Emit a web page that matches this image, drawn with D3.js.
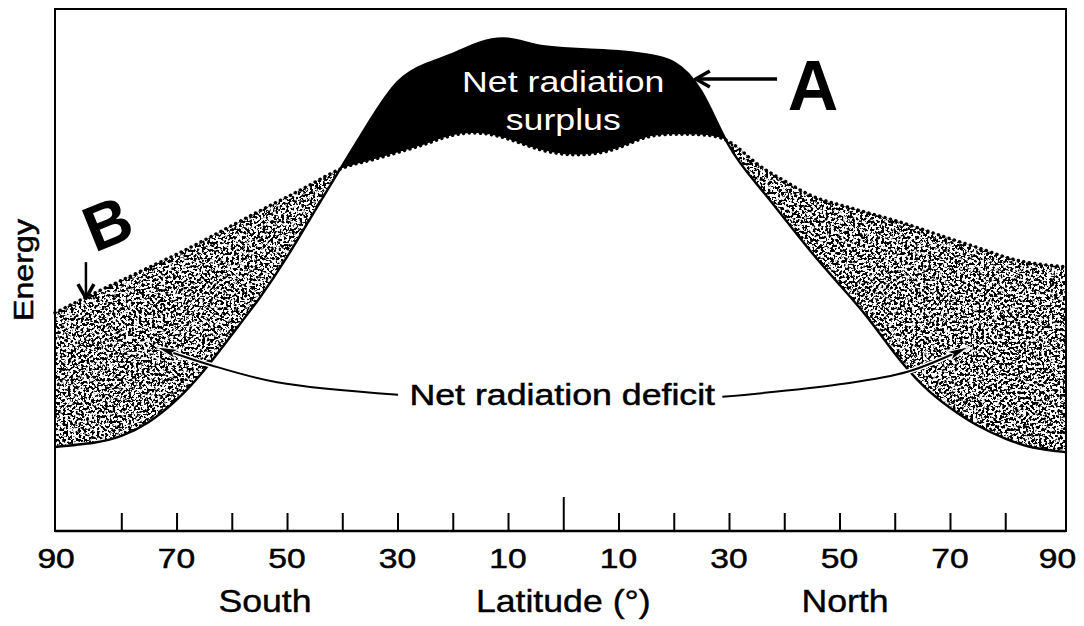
<!DOCTYPE html>
<html>
<head>
<meta charset="utf-8">
<script src="https://cdn.jsdelivr.net/npm/d3@7"></script>
<style>
  html, body { margin: 0; padding: 0; background: #fff; }
  svg { display: block; }
  text { font-family: "Liberation Sans", Arial, Helvetica, sans-serif; fill: #000; }
</style>
</head>
<body>
<svg id="chart" width="1084" height="626"></svg>
<script>
// ---------- data ----------
const latitude = [-92,-85,-80,-75,-70,-65,-60,-55,-50,-45,-40,-35,-30,-25,-20,-15,-10,-5,0,
                  5,10,15,20,25,30,35,40,45,50,55,60,65,70,75,80,85,91];
// absorbed solar radiation (solid line)
const incoming = [16.1,16.9,18.2,20.9,25.1,30.8,37.6,44.6,52.5,61.3,70.0,78.6,86.0,89.4,91.4,93.6,94.3,93.1,92.5,
                  92.2,91.9,91.3,89.8,84.2,73.8,66.5,59.9,53.3,47.2,41.0,34.0,28.0,23.6,20.2,17.7,16.0,15.1];
// outgoing radiation (dotted line)
const outgoing = [41.8,45.5,48.0,50.5,53.0,55.7,58.5,61.3,64.0,66.8,69.5,71.0,72.5,74.1,75.8,76.2,75.1,73.3,72.2,
                  72.2,73.4,75.4,76.0,75.9,74.6,70.4,67.1,64.2,62.5,61.0,59.5,57.8,56.0,54.3,52.5,51.3,50.6];
const tickLatitudes = [-80,-70,-60,-50,-40,-30,-20,-10,0,10,20,30,40,50,60,70,80];
const labelLatitudes = [-90,-70,-50,-30,-10,10,30,50,70,90];
const tickLabels = ["90","70","50","30","10","10","30","50","70","90"];
const hemisphereLabels = ["South","Latitude (°)","North"];
const hemisphereLat = [-54,0,51];

// ---------- layout ----------
const W = 1084, H = 626;
const frame = {left: 55, right: 1066, top: 9, bottom: 531};
const svg = d3.select("#chart");

const x = d3.scaleLinear().domain([-92, 91]).range([frame.left, frame.right]);
const y = d3.scaleLinear().domain([0, 100]).range([frame.bottom, frame.top]);

const rows = latitude.map((l, i) => ({lat: l, inc: incoming[i], out: outgoing[i]}));
const curve = d3.curveNatural;

// ---------- defs ----------
const defs = svg.append("defs");
const f = defs.append("filter").attr("id", "speckle")
  .attr("filterUnits", "userSpaceOnUse").attr("x", 0).attr("y", 0).attr("width", W).attr("height", H);
f.append("feTurbulence").attr("type", "fractalNoise").attr("baseFrequency", 0.38)
  .attr("numOctaves", 3).attr("seed", 11).attr("result", "n");
f.append("feColorMatrix").attr("in", "n").attr("type", "matrix")
  .attr("values", "0 0 0 0 0  0 0 0 0 0  0 0 0 0 0  -12 0 0 0 6.3");

const bandArea = d3.area().curve(curve).x(d => x(d.lat)).y0(d => y(d.inc)).y1(d => y(d.out));
const aboveOut = d3.area().curve(curve).x(d => x(d.lat)).y0(frame.top - 5).y1(d => y(d.out));
const belowOut = d3.area().curve(curve).x(d => x(d.lat)).y0(d => y(d.out)).y1(frame.bottom + 5);

defs.append("clipPath").attr("id", "clipAbove").append("path").attr("d", aboveOut(rows));
defs.append("clipPath").attr("id", "clipBelow").append("path").attr("d", belowOut(rows));
defs.append("clipPath").attr("id", "clipBand").append("path").attr("d", bandArea(rows));

// markers
defs.append("marker").attr("id", "tri").attr("viewBox", "0 0 22 12")
  .attr("refX", 21).attr("refY", 6).attr("markerWidth", 22).attr("markerHeight", 12)
  .attr("markerUnits", "userSpaceOnUse").attr("orient", "auto")
  .append("path").attr("d", "M0,1 L22,6 L0,11 L5,6 Z").attr("fill", "#000")
  .attr("stroke", "#fff").attr("stroke-width", 1);
defs.append("marker").attr("id", "chev").attr("viewBox", "0 0 20 20")
  .attr("refX", 18).attr("refY", 10).attr("markerWidth", 20).attr("markerHeight", 20)
  .attr("markerUnits", "userSpaceOnUse").attr("orient", "auto")
  .append("path").attr("d", "M4,2 L18,10 L4,18").attr("fill", "none")
  .attr("stroke", "#000").attr("stroke-width", 3.5).attr("stroke-linejoin", "miter");

// ---------- fills ----------
// deficit: speckled band where outgoing exceeds incoming
const speck = svg.append("g").attr("clip-path", "url(#clipBelow)")
  .append("g").attr("clip-path", "url(#clipBand)");
speck.append("rect").attr("x", 0).attr("y", 0).attr("width", W).attr("height", H)
  .attr("fill", "#fff");
speck.append("rect").attr("x", 0).attr("y", 0).attr("width", W).attr("height", H)
  .attr("fill", "#000").attr("filter", "url(#speckle)");

// surplus: black band where incoming exceeds outgoing
svg.append("g").attr("clip-path", "url(#clipAbove)")
  .append("path").attr("d", bandArea(rows)).attr("fill", "#000");

// ---------- lines ----------
const incLine = d3.line().curve(curve).x(d => x(d.lat)).y(d => y(d.inc));
const outLine = d3.line().curve(curve).x(d => x(d.lat)).y(d => y(d.out));

svg.append("path").attr("d", outLine(rows)).attr("fill", "none")
  .attr("stroke", "#000").attr("stroke-width", 3.4).attr("stroke-linecap", "round")
  .attr("stroke-dasharray", "0.1,5.5");
svg.append("path").attr("d", incLine(rows)).attr("fill", "none")
  .attr("stroke", "#000").attr("stroke-width", 2.4);

// ---------- frame & axis ----------
svg.append("rect").attr("x", frame.left).attr("y", frame.top)
  .attr("width", frame.right - frame.left).attr("height", frame.bottom - frame.top)
  .attr("fill", "none").attr("stroke", "#000").attr("stroke-width", 2);

const axis = d3.axisBottom(x).tickValues(tickLatitudes).tickSize(-18).tickFormat("");
const ag = svg.append("g").attr("transform", `translate(0,${frame.bottom})`).call(axis);
ag.select(".domain").remove();
ag.selectAll(".tick line").attr("stroke", "#000").attr("stroke-width", 2)
  .attr("y2", d => d === 0 ? -34 : -18);
svg.append("line").attr("x1", frame.left).attr("x2", frame.right)
  .attr("y1", frame.bottom).attr("y2", frame.bottom).attr("stroke", "#000").attr("stroke-width", 2.5);

// tick labels
svg.append("g").selectAll("text").data(labelLatitudes).join("text")
  .attr("transform", (d, i) => {
    const dx = i === 0 ? -10 : (i === labelLatitudes.length - 1 ? -3 : 0);
    return `translate(${x(d) + dx},568) scale(1.2,1)`;
  })
  .attr("text-anchor", "middle").attr("font-size", 28)
  .attr("stroke", "#000").attr("stroke-width", 0.5)
  .text((d, i) => tickLabels[i]);

svg.append("g").selectAll("text").data(hemisphereLabels).join("text")
  .attr("transform", (d, i) => `translate(${x(hemisphereLat[i])},612) scale(1.15,1)`)
  .attr("text-anchor", "middle").attr("font-size", 31)
  .attr("stroke", "#000").attr("stroke-width", 0.4)
  .text(d => d);

// y-axis title
svg.append("text").attr("transform", "translate(33,270) rotate(-90) scale(1.15,1)")
  .attr("text-anchor", "middle").attr("font-size", 28)
  .attr("stroke", "#000").attr("stroke-width", 0.5)
  .text("Energy");

// ---------- annotations ----------
// surplus label (white on black)
svg.append("text").attr("transform", `translate(${x(0)},92) scale(1.19,1)`)
  .attr("text-anchor", "middle").attr("font-size", 30).style("fill", "#fff")
  .text("Net radiation");
svg.append("text").attr("transform", `translate(${x(0)},130) scale(1.19,1)`)
  .attr("text-anchor", "middle").attr("font-size", 30).style("fill", "#fff")
  .text("surplus");

// deficit label
svg.append("text").attr("transform", `translate(${x(0) - 1},405) scale(1.19,1)`)
  .attr("text-anchor", "middle").attr("font-size", 30)
  .attr("stroke", "#000").attr("stroke-width", 0.5)
  .text("Net radiation deficit");

const leader = d3.line().curve(d3.curveCatmullRom.alpha(0.5)).x(d => x(d[0])).y(d => y(d[1]));
const leftLeader = [[-29.9, 26.1], [-51.8, 28.5], [-63.9, 31.8], [-73.5, 35.2]];
const rightLeader = [[28.8, 25.7], [50, 28.1], [62.3, 30.5], [73.2, 35.2]];
[leftLeader, rightLeader].forEach(pts => {
  svg.append("path").attr("d", leader(pts)).attr("fill", "none")
    .attr("stroke", "#fff").attr("stroke-width", 5);
  svg.append("path").attr("d", leader(pts)).attr("fill", "none")
    .attr("stroke", "#000").attr("stroke-width", 2).attr("marker-end", "url(#tri)");
});

// A label with arrow
const arrowA = [[38.7, 86.6], [24.0, 86.6]];
svg.append("path").attr("d", d3.line().x(d => x(d[0])).y(d => y(d[1]))(arrowA))
  .attr("fill", "none").attr("stroke", "#000").attr("stroke-width", 3.5)
  .attr("marker-end", "url(#chev)");
svg.append("text").attr("x", 813).attr("y", 110).attr("text-anchor", "middle")
  .attr("font-size", 70).attr("font-weight", "bold").text("A");

// B label with arrow
const arrowB = [[-86.4, 51.5], [-86.4, 44.6]];
svg.append("path").attr("d", d3.line().x(d => x(d[0])).y(d => y(d[1]))(arrowB))
  .attr("fill", "none").attr("stroke", "#000").attr("stroke-width", 2.5)
  .attr("marker-end", "url(#chev)");
svg.append("text").attr("transform", "translate(116,244) rotate(-22)")
  .attr("text-anchor", "middle").attr("font-size", 64).attr("font-weight", "bold")
  .text("B");
</script>
</body>
</html>
